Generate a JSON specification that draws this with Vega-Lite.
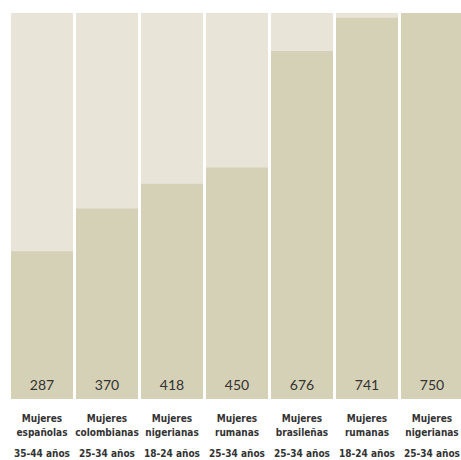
{
  "$schema": "https://vega.github.io/schema/vega-lite/v6.json",
  "width": 452,
  "height": 386,
  "autosize": "none",
  "padding": {"left": 11, "top": 13, "right": 0, "bottom": 61},
  "background": "white",
  "config": {"view": {"stroke": null}},
  "data": {
    "values": [
      {"id": 1, "grupo": "Mujeres españolas", "edad": "35-44 años", "valor": 287},
      {"id": 2, "grupo": "Mujeres colombianas", "edad": "25-34 años", "valor": 370},
      {"id": 3, "grupo": "Mujeres nigerianas", "edad": "18-24 años", "valor": 418},
      {"id": 4, "grupo": "Mujeres rumanas", "edad": "25-34 años", "valor": 450},
      {"id": 5, "grupo": "Mujeres brasileñas", "edad": "25-34 años", "valor": 676},
      {"id": 6, "grupo": "Mujeres rumanas", "edad": "18-24 años", "valor": 741},
      {"id": 7, "grupo": "Mujeres nigerianas", "edad": "25-34 años", "valor": 750}
    ]
  },
  "encoding": {
    "x": {
      "field": "id",
      "type": "ordinal",
      "sort": null,
      "scale": {"paddingInner": 0.046, "paddingOuter": 0},
      "axis": null
    }
  },
  "layer": [
    {
      "mark": {"type": "bar", "color": "#E8E4D8"},
      "encoding": {
        "y": {"datum": 750, "type": "quantitative", "scale": {"domain": [0, 750], "nice": false}, "axis": null}
      }
    },
    {
      "mark": {"type": "bar", "color": "#D5D1B6"},
      "encoding": {
        "y": {"field": "valor", "type": "quantitative", "scale": {"domain": [0, 750], "nice": false}, "axis": null}
      }
    },
    {
      "mark": {"type": "text", "baseline": "alphabetic", "dy": -9, "font": "Lato", "fontSize": 14, "color": "#333333"},
      "encoding": {
        "y": {"datum": 0, "type": "quantitative", "scale": {"domain": [0, 750], "nice": false}},
        "text": {"field": "valor", "type": "quantitative"}
      }
    },
    {
      "mark": {"type": "text", "baseline": "alphabetic", "dy": 22.5, "lineBreak": " ", "lineHeight": 14.3, "font": "DejaVu Sans Condensed", "fontWeight": "bold", "fontSize": 10, "color": "#333333"},
      "encoding": {
        "y": {"datum": 0, "type": "quantitative", "scale": {"domain": [0, 750], "nice": false}},
        "text": {"field": "grupo", "type": "nominal"}
      }
    },
    {
      "mark": {"type": "text", "baseline": "alphabetic", "dy": 57.5, "font": "DejaVu Sans Condensed", "fontWeight": "bold", "fontSize": 10, "color": "#333333"},
      "encoding": {
        "y": {"datum": 0, "type": "quantitative", "scale": {"domain": [0, 750], "nice": false}},
        "text": {"field": "edad", "type": "nominal"}
      }
    }
  ]
}
